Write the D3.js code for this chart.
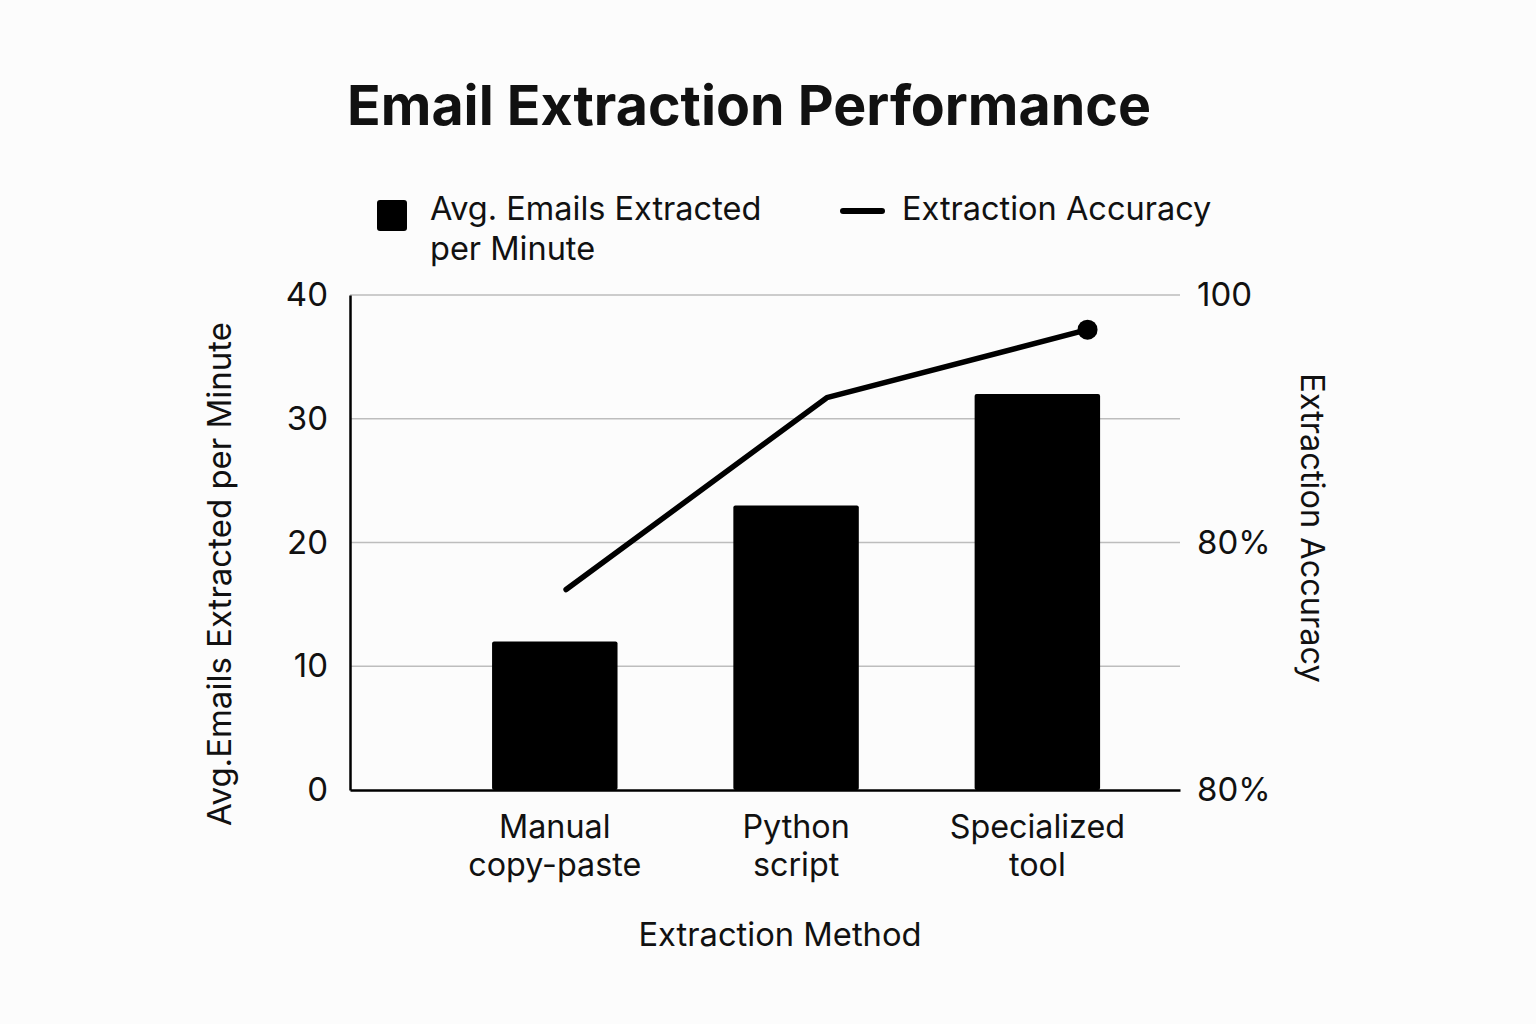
<!DOCTYPE html>
<html>
<head>
<meta charset="utf-8">
<script src="https://cdn.jsdelivr.net/npm/d3@7"></script>
<style>
  body { margin: 0; background: #fcfcfc; }
  svg { display: block; font-family: Inter, "Noto Sans", sans-serif; }
</style>
</head>
<body>
<div id="chart"></div>
<script>
// data
var methods = ["Manual copy-paste", "Python script", "Specialized tool"];
var methodLines = [["Manual", "copy-paste"], ["Python", "script"], ["Specialized", "tool"]];
var emailsPerMinute = [12, 23, 32];
var accuracy = [76.2, 91.7, 97.2];
var leftTicks = [0, 10, 20, 30, 40];
var rightTickValues = [60, 80, 100];
var rightTickLabels = ["80%", "80%", "100"];

var width = 1536, height = 1024;
var margin = {top: 295, right: 356, bottom: 234, left: 350};
var w = width - margin.left - margin.right,
    h = height - margin.top - margin.bottom;

var svg = d3.select("#chart").append("svg")
    .attr("width", width)
    .attr("height", height);

svg.append("rect").attr("width", width).attr("height", height).attr("fill", "#fcfcfc");

// title
svg.append("text")
    .attr("x", 749)
    .attr("y", 125)
    .attr("text-anchor", "middle")
    .attr("font-size", 55.5)
    .attr("font-weight", "bold")
    .attr("fill", "#111")
    .text("Email Extraction Performance");

// legend
var leg = svg.append("g");
leg.append("rect")
    .attr("x", 377).attr("y", 200)
    .attr("width", 30).attr("height", 31)
    .attr("rx", 3)
    .attr("fill", "#000");
leg.append("text")
    .attr("x", 430).attr("y", 220)
    .attr("font-size", 32.5)
    .attr("fill", "#111")
    .selectAll("tspan")
    .data(["Avg. Emails Extracted", "per Minute"])
  .enter().append("tspan")
    .attr("x", 430)
    .attr("dy", function(d, i) { return i ? 40 : 0; })
    .text(function(d) { return d; });
leg.append("line")
    .attr("x1", 843).attr("x2", 882)
    .attr("y1", 211).attr("y2", 211)
    .attr("stroke", "#000")
    .attr("stroke-width", 6)
    .attr("stroke-linecap", "round");
leg.append("text")
    .attr("x", 902).attr("y", 220)
    .attr("font-size", 32.5)
    .attr("fill", "#111")
    .text("Extraction Accuracy");

var g = svg.append("g")
    .attr("transform", "translate(" + margin.left + "," + margin.top + ")");

// scales
var x = d3.scaleBand()
    .domain(methods)
    .range([0, w])
    .paddingInner(0.48)
    .paddingOuter(0.46)
    .align(0.64);

var xLine = d3.scalePoint()
    .domain(methods)
    .range([x(methods[0]) + x.bandwidth() * 0.59, x(methods[2]) + x.bandwidth() * 0.9]);

var y = d3.scaleLinear()
    .domain([0, 40])
    .range([h, 0]);

var yAcc = d3.scaleLinear()
    .domain([60, 100])
    .range([h, 0]);

// grid
g.append("g")
    .selectAll("line")
    .data(leftTicks.filter(function(d) { return d > 0; }))
  .enter().append("line")
    .attr("x1", 0).attr("x2", w)
    .attr("y1", function(d) { return y(d); })
    .attr("y2", function(d) { return y(d); })
    .attr("stroke", "#bdbdbd")
    .attr("stroke-width", 1.5);

// bars
g.selectAll(".bar")
    .data(emailsPerMinute)
  .enter().append("rect")
    .attr("class", "bar")
    .attr("x", function(d, i) { return x(methods[i]); })
    .attr("y", function(d) { return y(d); })
    .attr("width", x.bandwidth())
    .attr("height", function(d) { return h - y(d); })
    .attr("rx", 2)
    .attr("fill", "#000");

// left axis
var yAxis = g.append("g")
    .call(d3.axisLeft(y).tickValues(leftTicks).tickSize(0).tickPadding(22));
yAxis.select(".domain").attr("stroke", "#000").attr("stroke-width", 2.5);
yAxis.selectAll("text").attr("font-size", 33).attr("fill", "#111").attr("font-family", "Inter, sans-serif");

// bottom axis
var xAxis = g.append("g")
    .attr("transform", "translate(0," + h + ")")
    .call(d3.axisBottom(x).tickSize(0).tickFormat(""));
xAxis.select(".domain").attr("stroke", "#000").attr("stroke-width", 2.5);

g.append("g")
    .selectAll("text")
    .data(methods)
  .enter().append("text")
    .attr("x", function(d) { return x(d) + x.bandwidth() / 2; })
    .attr("y", h + 48)
    .attr("text-anchor", "middle")
    .attr("font-size", 32.3)
    .attr("fill", "#111")
    .each(function(d, i) {
      d3.select(this).selectAll("tspan")
        .data(methodLines[i])
      .enter().append("tspan")
        .attr("x", x(d) + x.bandwidth() / 2)
        .attr("dy", function(t, j) { return j ? 38 : 0; })
        .text(function(t) { return t; });
    });

// right axis
var rAxis = g.append("g")
    .attr("transform", "translate(" + w + ",0)")
    .call(d3.axisRight(yAcc).tickValues(rightTickValues).tickSize(0).tickPadding(17)
      .tickFormat(function(d, i) { return rightTickLabels[i]; }));
rAxis.select(".domain").remove();
rAxis.selectAll("text").attr("font-size", 33).attr("fill", "#111").attr("font-family", "Inter, sans-serif");

// accuracy line
var line = d3.line()
    .x(function(d, i) { return xLine(methods[i]); })
    .y(function(d) { return yAcc(d); });

g.append("path")
    .datum(accuracy)
    .attr("d", line)
    .attr("fill", "none")
    .attr("stroke", "#000")
    .attr("stroke-width", 5.5)
    .attr("stroke-linecap", "round")
    .attr("stroke-linejoin", "round");

g.append("circle")
    .attr("cx", xLine(methods[2]))
    .attr("cy", yAcc(accuracy[2]))
    .attr("r", 10)
    .attr("fill", "#000");

// axis titles
svg.append("text")
    .attr("transform", "translate(231,574) rotate(-90)")
    .attr("text-anchor", "middle")
    .attr("font-size", 33)
    .attr("fill", "#111")
    .text("Avg.Emails Extracted per Minute");

svg.append("text")
    .attr("transform", "translate(1301,528) rotate(90)")
    .attr("text-anchor", "middle")
    .attr("font-size", 32.5)
    .attr("fill", "#111")
    .text("Extraction Accuracy");

svg.append("text")
    .attr("x", 780)
    .attr("y", 946)
    .attr("text-anchor", "middle")
    .attr("font-size", 32.7)
    .attr("fill", "#111")
    .text("Extraction Method");
</script>
</body>
</html>
